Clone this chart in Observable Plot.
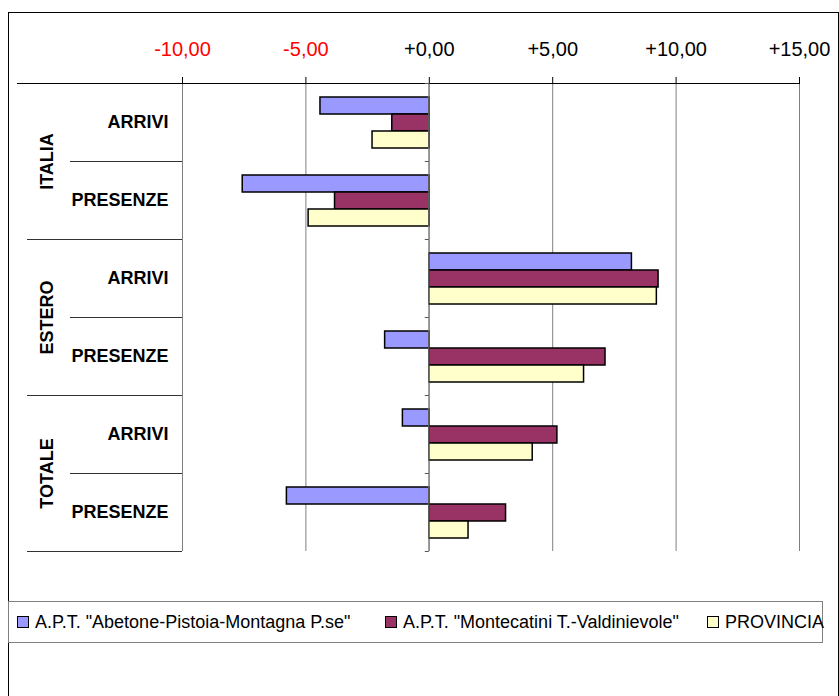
<!DOCTYPE html>
<html><head><meta charset="utf-8">
<script src="https://cdn.jsdelivr.net/npm/d3@7"></script>
<script src="https://cdn.jsdelivr.net/npm/@observablehq/plot@0.6"></script>
<style>
body{margin:0;background:#fff;font-family:"Liberation Sans",Arial,sans-serif;}
#frame{position:absolute;left:8px;top:12px;width:831px;height:700px;border:1px solid #000;box-sizing:border-box;}
#chart{position:absolute;left:0;top:0;}
#legend{position:absolute;left:-1px;top:588px;width:815px;height:42px;border:1px solid #808080;box-sizing:border-box;}
.item{position:absolute;top:0;height:40px;display:flex;align-items:center;font-size:18px;white-space:nowrap;color:#000;}
.sw{width:10px;height:10px;border:1px solid #000;margin-right:6px;}
</style></head><body>
<div id="frame"><div id="chart"></div><div id="legend"></div></div>
<script>
const groups = ["ITALIA", "ITALIA", "ESTERO", "ESTERO", "TOTALE", "TOTALE"];
const measures = ["ARRIVI", "PRESENZE", "ARRIVI", "PRESENZE", "ARRIVI", "PRESENZE"];
const seriesNames = ['A.P.T. "Abetone-Pistoia-Montagna P.se"', 'A.P.T. "Montecatini T.-Valdinievole"', "PROVINCIA"];
const abetone = [-4.41, -7.56, 8.21, -1.79, -1.07, -5.77];
const montecatini = [-1.50, -3.82, 9.29, 7.14, 5.19, 3.11];
const provincia = [-2.30, -4.89, 9.22, 6.27, 4.19, 1.59];
const seriesColors = ["#9999ff", "#993366", "#ffffcc"];
const xTicks = [-10, -5, 0, 5, 10, 15];

(function () {
const rowKeys = groups.map((g, i) => g + "|" + measures[i]);
const seriesValues = [abetone, montecatini, provincia];
const table = [];
rowKeys.forEach((k, i) => seriesNames.forEach((s, j) => table.push({row: k, series: s, value: seriesValues[j][i]})));
const rows = rowKeys.map((k, i) => ({row: k, group: groups[i], measure: measures[i]}));
const groupRows = rows.filter((r, i) => i === 0 || groups[i - 1] !== r.group);

const fmt = d => (d < 0 ? "-" : "+") + Math.abs(d).toFixed(2).replace(".", ",");
const FONT = '"Liberation Sans", Arial, sans-serif';

const chart = Plot.plot({
  width: 829,
  height: 560,
  marginLeft: 173,
  marginRight: 39,
  marginTop: 70,
  marginBottom: 22,
  style: {fontFamily: FONT, fontSize: "18px", background: "transparent", color: "#000"},
  x: {domain: [-10, 15], axis: null},
  fy: {domain: rowKeys, padding: 0, axis: null},
  y: {domain: seriesNames, paddingInner: 0, paddingOuter: 0.75, axis: null},
  color: {domain: seriesNames, range: seriesColors},
  marks: [
    Plot.gridX(xTicks, {stroke: "#808080", strokeOpacity: 1, strokeWidth: 1}),
    Plot.barX(table, {fy: "row", y: "series", x: "value", fill: "series", stroke: "#000", strokeWidth: 1.5}),
    Plot.axisX({anchor: "top", ticks: xTicks, tickSize: 7, tickPadding: 21, tickFormat: fmt, fontSize: 20, label: null, stroke: "#000"}),
    Plot.text(rows, {fy: "row", text: "measure", frameAnchor: "left", dx: -14, textAnchor: "end", fontWeight: "bold", fontSize: 18, fill: "#000"}),
    Plot.text(groupRows, {fy: "row", text: "group", frameAnchor: "bottom-left", dx: -135, rotate: -90, textAnchor: "middle", lineAnchor: "middle", fontWeight: "bold", fontSize: 18, fill: "#000"})
  ]
});
document.getElementById("chart").appendChild(chart);

d3.select(chart).selectAll('g[aria-label="x-axis tick label"] text')
  .attr("fill", function () { return this.textContent.trim().startsWith("-") ? "#ff0000" : "#000"; });

const sx = chart.scale("x");
const sfy = chart.scale("fy");
const x0 = sx.apply(0);
const xl = sx.apply(-10);
const xr = sx.apply(15);
const bw = sfy.bandwidth;
const yTop = sfy.apply(rowKeys[0]);
const yBottom = sfy.apply(rowKeys[rowKeys.length - 1]) + bw;
const deco = d3.select(chart).append("g");
deco.append("line").attr("x1", 8).attr("x2", xr).attr("y1", Math.round(yTop) + 0.5).attr("y2", Math.round(yTop) + 0.5).attr("stroke", "#000");
rowKeys.forEach((k, i) => {
  const yb = Math.round(sfy.apply(k) + bw) + 0.5;
  const startX = (i < rowKeys.length - 1 && groups[i + 1] === groups[i]) ? 61 : 18;
  deco.append("line").attr("x1", startX).attr("x2", xl).attr("y1", yb).attr("y2", yb).attr("stroke", "#333");
});
deco.append("line").attr("x1", x0).attr("x2", x0).attr("y1", yTop).attr("y2", yBottom).attr("stroke", "#808080");
[yTop, ...rowKeys.map(k => sfy.apply(k) + bw)].forEach(yv => {
  deco.append("line").attr("x1", x0 - 4).attr("x2", x0).attr("y1", Math.round(yv) + 0.5).attr("y2", Math.round(yv) + 0.5).attr("stroke", "#555");
});

const legendLefts = [8, 376, 698];
const legend = document.getElementById("legend");
seriesNames.forEach((s, i) => {
  const it = document.createElement("div");
  it.className = "item";
  it.style.left = legendLefts[i] + "px";
  const sw = document.createElement("span");
  sw.className = "sw";
  sw.style.background = seriesColors[i];
  const tx = document.createElement("span");
  tx.textContent = s;
  it.appendChild(sw); it.appendChild(tx);
  legend.appendChild(it);
});
})();
</script>
</body></html>
